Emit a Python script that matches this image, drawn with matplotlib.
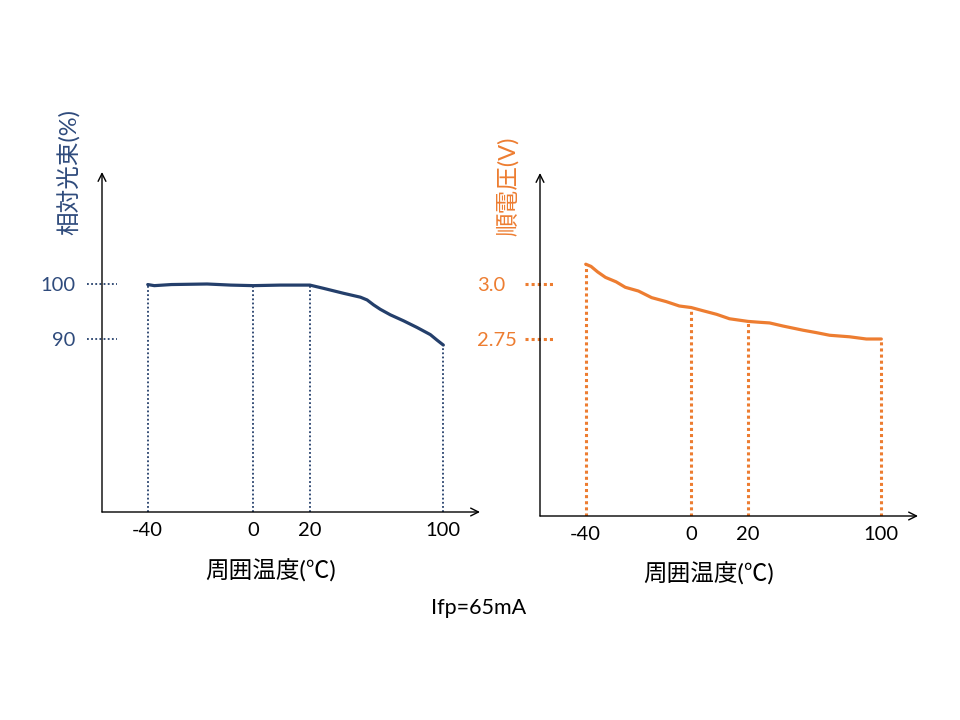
import numpy as np
import matplotlib
matplotlib.use('Agg')
import matplotlib.pyplot as plt

plt.rcParams['font.family'] = ['Lato', 'Noto Sans CJK JP', 'DejaVu Sans']

# ---------------- data ----------------
temp_flux = [-40, -37.5, -31, -17.5, -8.5, 0, 9.5, 20, 28.3, 40.3, 50.3, 54.3, 58.2, 62.2,
             68.2, 76.2, 84.2, 92.2, 96.2, 100]
flux = [99.9, 99.7, 99.9, 100.0, 99.8, 99.7, 99.8, 99.8, 99.2, 98.3, 97.6, 97.1, 96.2, 95.4,
        94.4, 93.3, 92.1, 90.8, 89.8, 88.9]

temp_vf = [-40, -38, -35.5, -32.5, -28.5, -25, -20, -15, -9.5, -4.5, 0, 4, 9, 13.5,
           20, 27, 33, 41, 53, 61, 69, 81, 91, 100]
vf = [3.09, 3.08, 3.055, 3.03, 3.01, 2.985, 2.968, 2.938, 2.92, 2.90, 2.893, 2.879, 2.862, 2.842,
      2.83, 2.826, 2.823, 2.809, 2.79, 2.779, 2.767, 2.76, 2.75, 2.75]

x_ticks = [-40, 0, 20, 100]
x_tick_labels = ['-40', '0', '20', '100']
flux_ticks = [90, 100]
flux_tick_labels = ['90', '100']
vf_ticks = [2.75, 3.0]
vf_tick_labels = ['2.75', '3.0']
x_label = '周囲温度(℃)'
flux_label = '相対光束(%)'
vf_label = '順電圧(V)'
note = 'Ifp=65mA'

BLUE_LINE = '#243F6B'
BLUE_TEXT = '#2F4B7C'
ORANGE = '#ED7D31'

# schematic (piecewise) temperature axis
knots_t = np.array([-1040.0, -40, 0, 20, 100, 1100])
_f = [0.121, 0.40, 0.55, 0.903]
_sl = (_f[1] - _f[0]) / 40.0
_sr = (_f[3] - _f[2]) / 80.0
knots_f = np.array([_f[0] - 1000 * _sl, _f[0], _f[1], _f[2], _f[3], _f[3] + 1000 * _sr])


def forward(t):
    return np.interp(t, knots_t, knots_f)


def inverse(f):
    return np.interp(f, knots_f, knots_t)


fig = plt.figure(figsize=(9.6, 7.2), dpi=100)


def setup(ax):
    ax.set_xscale('function', functions=(forward, inverse))
    ax.set_xlim(inverse(0.0), inverse(1.0))
    for s in ax.spines.values():
        s.set_visible(False)
    ax.set_xticks(x_ticks, x_tick_labels)
    ax.set_xticks([], minor=True)
    ax.tick_params(axis='x', length=0, pad=7, labelsize=14.5, colors='black')
    arrow = dict(arrowstyle='->', lw=1.0, color='black', shrinkA=0, shrinkB=0,
                 mutation_scale=14)
    ax.annotate('', xy=(0, 1), xytext=(0, 0), xycoords='axes fraction', arrowprops=arrow)
    ax.annotate('', xy=(1, 0), xytext=(0, 0), xycoords='axes fraction', arrowprops=arrow)


# ---------------- left: relative flux ----------------
ax1 = fig.add_axes([102 / 960, 1 - 512 / 720, 378 / 960, 340 / 720])
setup(ax1)
ax1.set_ylim(58.55, 120.36)
ax1.set_yticks(flux_ticks, flux_tick_labels)
ax1.set_yticks([], minor=True)
ax1.tick_params(axis='y', length=0, pad=19, labelsize=14.5, labelcolor=BLUE_TEXT)
ax1.plot(temp_flux, flux, color=BLUE_LINE, lw=2.3, solid_capstyle='round',
         solid_joinstyle='round')
ax1.vlines(x_ticks, ax1.get_ylim()[0], np.interp(x_ticks, temp_flux, flux),
           colors=BLUE_LINE, lw=1.3, linestyles=(0, (1, 1.3)))
for y in flux_ticks:
    ax1.plot([-0.04, 0.04], [y, y], transform=ax1.get_yaxis_transform(), clip_on=False,
             color=BLUE_LINE, lw=1.3, ls=(0, (1, 1.3)))

# ---------------- right: forward voltage ----------------
ax2 = fig.add_axes([540 / 960, 1 - 516 / 720, 378 / 960, 343 / 720])
setup(ax2)
ax2.set_ylim(1.9455, 3.5045)
ax2.set_yticks(vf_ticks, vf_tick_labels)
ax2.set_yticks([], minor=True)
ax2.tick_params(axis='y', length=0, pad=45, labelsize=14.5, labelcolor=ORANGE)
for lab in ax2.get_yticklabels():
    lab.set_horizontalalignment('left')
ax2.plot(temp_vf, vf, color=ORANGE, lw=2.3, solid_capstyle='round',
         solid_joinstyle='round')
ax2.vlines(x_ticks, ax2.get_ylim()[0], np.interp(x_ticks, temp_vf, vf),
           colors=ORANGE, lw=2.2, linestyles=(0, (1, 1)))
for y in vf_ticks:
    ax2.plot([-0.04, 0.04], [y, y], transform=ax2.get_yaxis_transform(), clip_on=False,
             color=ORANGE, lw=2.2, ls=(0, (1, 1)))

# ---------------- texts ----------------
fig.text(69 / 960, 1 - 172 / 720, flux_label, rotation=90, ha='center', va='center',
         fontsize=17, color=BLUE_TEXT)
fig.text(508 / 960, 1 - 186 / 720, vf_label, rotation=90, ha='center', va='center',
         fontsize=17, color=ORANGE)
fig.text(271 / 960, 1 - 571 / 720, x_label, ha='center', va='center', fontsize=17,
         color='black')
fig.text(709 / 960, 1 - 574 / 720, x_label, ha='center', va='center', fontsize=17,
         color='black')
fig.text(479 / 960, 1 - 608 / 720, note, ha='center', va='center', fontsize=15.5,
         color='black')

fig.savefig('out.png', dpi=100, facecolor='white')
